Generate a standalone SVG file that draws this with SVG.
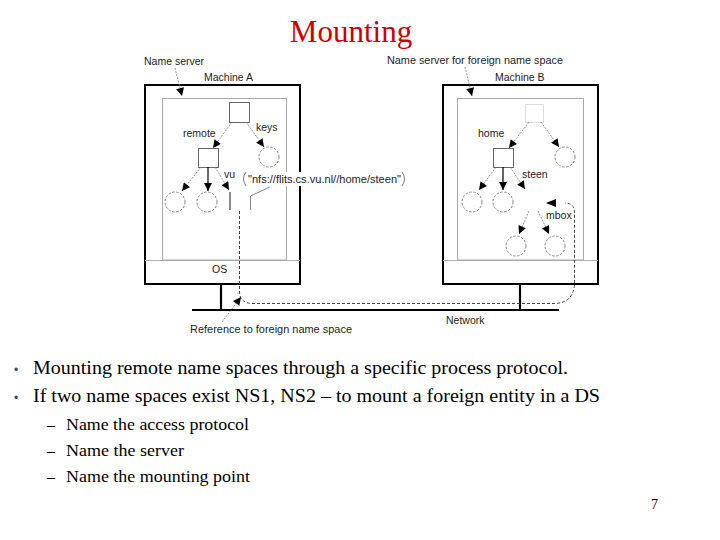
<svg xmlns="http://www.w3.org/2000/svg" width="720" height="540" viewBox="0 0 720 540">
<style>
.lbl{font-family:"Liberation Sans",Arial,sans-serif;font-size:10.5px;fill:#222}
.body{font-family:"Liberation Serif","Times New Roman",serif;fill:#000}
.outer{fill:#fff;stroke:#000;stroke-width:2}
.panel{fill:none;stroke:#aaa;stroke-width:1}
.sq{fill:#fff;stroke:#666;stroke-width:1}
.circ{fill:#fff;stroke:#777;stroke-width:0.9;stroke-dasharray:2.5 1.5}
.edge{fill:none;stroke:#777;stroke-width:0.8;stroke-dasharray:2 1.2;marker-end:url(#ah)}
.solid{fill:none;stroke:#000;stroke-width:1.2;marker-end:url(#ah)}
.dash{fill:none;stroke:#444;stroke-width:1;stroke-dasharray:3 2}
.net{fill:none;stroke:#000;stroke-width:2.2}
</style>
<defs>
<marker id="ah" viewBox="0 0 10 10" refX="10" refY="5" markerWidth="9" markerHeight="8" markerUnits="userSpaceOnUse" orient="auto"><path d="M0,0 L10,5 L0,10 z" fill="#000"/></marker>
</defs>
<rect width="720" height="540" fill="#fff"/>
<text x="351" y="42" text-anchor="middle" style="font-family:'Liberation Serif','Times New Roman',serif;font-size:31px;fill:#cc0000">Mounting</text>

<g id="machineA">
<rect class="outer" x="145" y="85" width="155" height="199"/>
<rect class="panel" x="162.5" y="98.5" width="124" height="161.5"/>
<line x1="145" y1="260.5" x2="300" y2="260.5" stroke="#aaa" stroke-width="1"/>
<text class="lbl" x="204" y="81">Machine A</text>
<text class="lbl" x="212" y="273">OS</text>
</g>
<g id="machineB">
<rect class="outer" x="443" y="85" width="155" height="199"/>
<rect class="panel" x="457.5" y="98.5" width="126" height="161.5"/>
<line x1="443" y1="260.5" x2="598" y2="260.5" stroke="#aaa" stroke-width="1"/>
<text class="lbl" x="495" y="81">Machine B</text>
</g>

<g id="treeA">
<rect class="sq" x="229.5" y="102.5" width="20" height="20" stroke="#444"/>
<rect class="sq" x="198.5" y="148.5" width="20" height="19" stroke="#999"/>
<circle class="circ" cx="269" cy="157" r="10"/>
<circle class="circ" cx="175" cy="202" r="10"/>
<circle class="circ" cx="207" cy="202" r="10"/>
<line x1="230" y1="192" x2="230" y2="210" stroke="#888" stroke-width="2"/>
<text class="lbl" x="183" y="137">remote</text>
<text class="lbl" x="256" y="131">keys</text>
<text class="lbl" x="224" y="178">vu</text>
</g>

<g id="callout">
<rect x="244" y="172" width="160" height="14" fill="#fff"/>
<path d="M246,172 Q241,179 246,186" fill="none" stroke="#555" stroke-width="0.8"/>
<path d="M402,172 Q407,179 402,186" fill="none" stroke="#555" stroke-width="0.8"/>
<text class="lbl" x="248" y="183" textLength="153" lengthAdjust="spacingAndGlyphs">"nfs://flits.cs.vu.nl//home/steen"</text>
<path d="M270,187 L250.5,196 L250.5,210" fill="none" stroke="#888" stroke-width="1"/>
</g>

<g id="treeB">
<rect x="525.5" y="104.5" width="18" height="18" fill="#fff" stroke="#ddd" stroke-width="1"/>
<rect class="sq" x="493.5" y="148.5" width="20" height="19"/>
<circle class="circ" cx="565" cy="157" r="10"/>
<circle class="circ" cx="472" cy="202" r="10"/>
<circle class="circ" cx="503" cy="202" r="10"/>
<circle class="circ" cx="516" cy="246" r="10"/>
<circle class="circ" cx="555" cy="246" r="10"/>
<text class="lbl" x="478" y="137">home</text>
<text class="lbl" x="522" y="178">steen</text>
<text class="lbl" x="546" y="219">mbox</text>
</g>

<g id="network">
<line class="net" x1="192" y1="310" x2="559" y2="310"/>
<line class="net" x1="221" y1="284" x2="221" y2="310"/>
<line class="net" x1="520" y1="284" x2="520" y2="310"/>
<text class="lbl" x="446" y="324">Network</text>
</g>

<g id="labels">
<text class="lbl" x="144" y="65">Name server</text>
<text class="lbl" x="387" y="64" textLength="176" lengthAdjust="spacingAndGlyphs">Name server for foreign name space</text>
<text class="lbl" x="190" y="333" textLength="162" lengthAdjust="spacingAndGlyphs">Reference to foreign name space</text>
</g>

<g id="connectors">
<path class="edge" d="M175,68 L182,96"/>
<path class="edge" d="M465,67 L472,96"/>
<path class="edge" d="M232,122 L213,148"/>
<path class="edge" d="M246,122 L264,147"/>
<path class="edge" d="M201,167 L182,191"/>
<path class="solid" d="M208,167 L208,191"/>
<path class="edge" d="M215,167 L229,190"/>
<path class="edge" d="M529,122 L509,148"/>
<path class="edge" d="M541,122 L559,147"/>
<path class="edge" d="M496,167 L479,190"/>
<path class="solid" d="M503,167 L503,190"/>
<path class="edge" d="M510,167 L525,189"/>
<path class="edge" d="M529,211 L519,234"/>
<path class="edge" d="M538,211 L549,234"/>
<path class="dash" d="M239.5,211 V292 Q240,303 252,303.5 H556 Q573,302 574.5,285 V212 Q574,203 565,203"/>
<path d="M556,199 L546,203 L556,207 z" fill="#000"/>
<path class="edge" d="M222,322 L241,297"/>
</g>

<g id="text">
<text x="14" y="374" style="font-family:'Liberation Sans',sans-serif;font-size:12px;fill:#446">•</text>
<text class="body" x="33" y="374" font-size="18" textLength="535" lengthAdjust="spacingAndGlyphs">Mounting remote name spaces through a specific process protocol.</text>
<text x="14" y="402" style="font-family:'Liberation Sans',sans-serif;font-size:12px;fill:#446">•</text>
<text class="body" x="33" y="402" font-size="18" textLength="567" lengthAdjust="spacingAndGlyphs">If two name spaces exist NS1, NS2 – to mount a foreign entity in a DS</text>
<text class="body" x="47" y="430" font-size="16">–</text>
<text class="body" x="66" y="430" font-size="16" textLength="183" lengthAdjust="spacingAndGlyphs">Name the access protocol</text>
<text class="body" x="47" y="456" font-size="16">–</text>
<text class="body" x="66" y="456" font-size="16" textLength="118" lengthAdjust="spacingAndGlyphs">Name the server</text>
<text class="body" x="47" y="482" font-size="16">–</text>
<text class="body" x="66" y="482" font-size="16" textLength="184" lengthAdjust="spacingAndGlyphs">Name the mounting point</text>
<text class="body" x="651" y="509" font-size="14">7</text>
</g>
</svg>
